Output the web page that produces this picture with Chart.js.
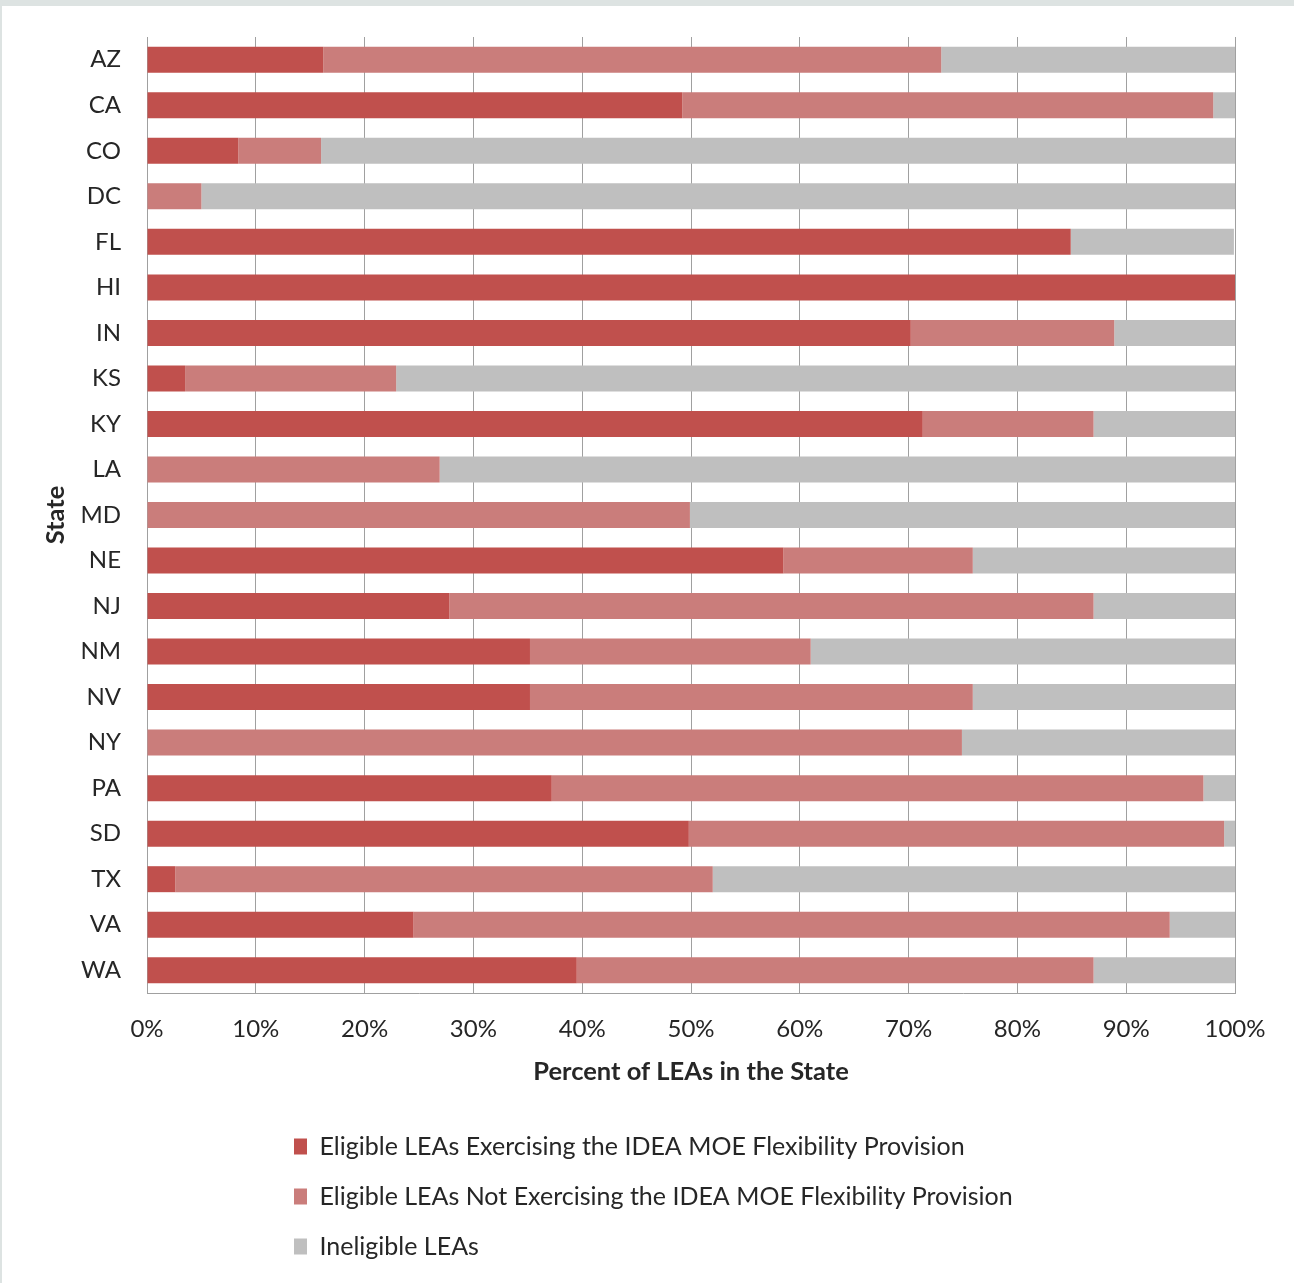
<!DOCTYPE html>
<html>
<head>
<meta charset="utf-8">
<script src="https://cdn.jsdelivr.net/npm/chart.js@4.4.1/dist/chart.umd.min.js"></script>
<style>
  html, body { margin: 0; padding: 0; background: #ffffff; }
  #frame {
    position: absolute; left: 0; top: 0;
    width: 1294px; height: 1283px;
    box-sizing: border-box;
    border-top: 6px solid #dde3e2;
    border-left: 2px solid #dde3e2;
    background: #ffffff;
  }
  canvas { display: block; }
</style>
</head>
<body>
<div id="frame"><canvas id="c" width="1292" height="1277"></canvas></div>
<script>
const states = ['AZ','CA','CO','DC','FL','HI','IN','KS','KY','LA','MD','NE','NJ','NM','NV','NY','PA','SD','TX','VA','WA'];
const exercising    = [16.2, 49.2,  8.4,  0.0, 84.9, 100.0, 70.2,  3.5, 71.3,  0.0,  0.0, 58.5, 27.8, 35.2, 35.2,  0.0, 37.2, 49.8,  2.6, 24.5, 39.5];
const notExercising = [56.8, 48.8,  7.6,  5.0,  0.0,   0.0, 18.7, 19.4, 15.7, 26.9, 49.9, 17.4, 59.2, 25.8, 40.7, 74.9, 59.9, 49.2, 49.4, 69.5, 47.5];
const ineligible    = [27.0,  2.0, 84.0, 95.0, 15.0,   0.0, 11.1, 77.1, 13.0, 73.1, 50.1, 24.1, 13.0, 39.0, 24.1, 25.1,  2.9,  1.0, 48.0,  6.0, 13.0];
const seriesNames = [
  'Eligible LEAs Exercising the IDEA MOE Flexibility Provision',
  'Eligible LEAs Not Exercising the IDEA MOE Flexibility Provision',
  'Ineligible LEAs'
];
const xTicks = [0,10,20,30,40,50,60,70,80,90,100];

const FONT = 'Lato, "Open Sans", sans-serif';
const TEXT = '#262626';
const GRID = '#a0a0a0';

// Stack legend items one per line, left-aligned.
const legendColumn = {
  id: 'legendColumn',
  beforeDraw(chart) {
    const lg = chart.legend;
    if (!lg) return;
    const pad = chart.options.plugins.legend.labels.padding;
    lg.left = 292 - pad;
    lg.right = 1100;
    lg.bottom = lg.top + 170;
  }
};

new Chart(document.getElementById('c'), {
  type: 'bar',
  data: {
    labels: states,
    datasets: [
      { label: seriesNames[0], data: exercising,    backgroundColor: '#c0504d' },
      { label: seriesNames[1], data: notExercising, backgroundColor: '#ca7d7b' },
      { label: seriesNames[2], data: ineligible,    backgroundColor: '#bfbfbf' }
    ]
  },
  plugins: [legendColumn],
  options: {
    indexAxis: 'y',
    responsive: false,
    animation: false,
    devicePixelRatio: 1,
    datasets: { bar: { categoryPercentage: 1.0, barPercentage: 0.571, borderWidth: 0 } },
    layout: { padding: { top: 31, right: 59, bottom: 64, left: 0 } },
    scales: {
      x: {
        stacked: true,
        min: 0, max: 100,
        afterBuildTicks(scale) { scale.ticks = xTicks.map(v => ({ value: v })); },
        afterFit(scale) { scale.height = 116; },
        ticks: {
          callback: v => v + '%',
          font: { family: FONT, size: 24 },
          color: TEXT,
          padding: 22,
          maxRotation: 0
        },
        grid: { color: GRID, lineWidth: 1, drawTicks: false },
        border: { display: true, color: GRID, width: 1 },
        title: {
          display: true,
          text: 'Percent of LEAs in the State',
          font: { family: FONT, size: 25.5, weight: 'bold' },
          color: TEXT,
          padding: { top: 0, bottom: 21.7 }
        }
      },
      y: {
        stacked: true,
        afterFit(scale) { scale.width = 145; scale.paddingTop = 0; scale.paddingBottom = 0; },
        ticks: {
          font: { family: FONT, size: 24 },
          color: TEXT,
          padding: 26,
          autoSkip: false
        },
        grid: { display: false, drawTicks: false },
        border: { display: true, color: GRID, width: 1 },
        title: {
          display: true,
          text: 'State',
          font: { family: FONT, size: 25.5, weight: 'bold' },
          color: TEXT,
          padding: { top: 38.7, bottom: 0 }
        }
      }
    },
    plugins: {
      tooltip: { enabled: false },
      legend: {
        position: 'bottom',
        align: 'start',
        labels: {
          font: { family: FONT, size: 25 },
          color: TEXT,
          boxWidth: 13,
          boxHeight: 16,
          padding: 25
        }
      }
    }
  }
});
</script>
</body>
</html>
